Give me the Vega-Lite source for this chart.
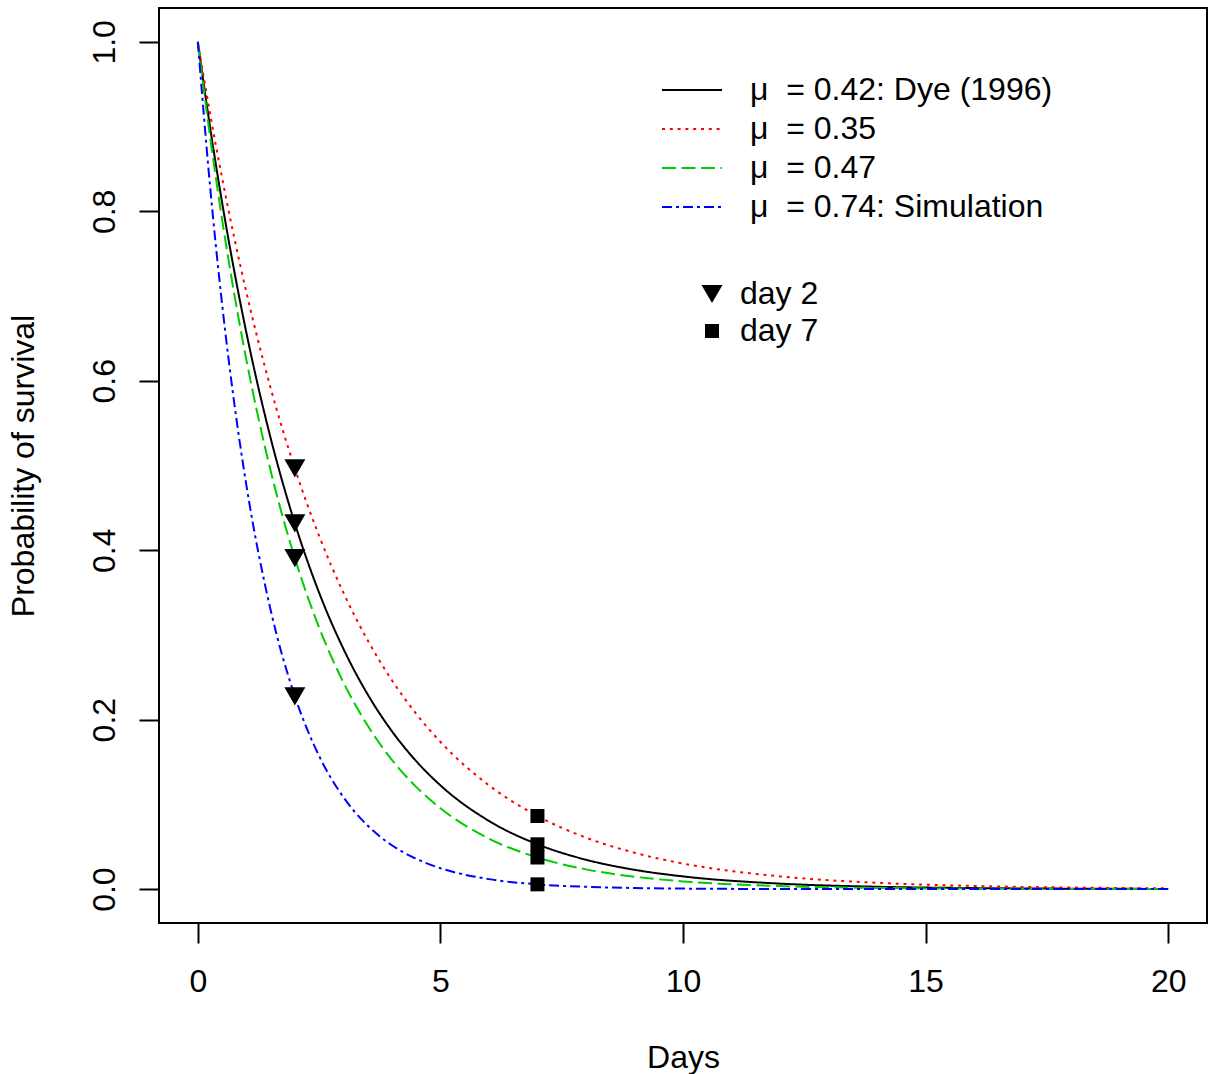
{
  "$schema": "https://vega.github.io/schema/vega-lite/v6.json",
  "width": 1048,
  "height": 915,
  "autosize": {"type": "none"},
  "padding": {"top": 8, "left": 159, "right": 5, "bottom": 151},
  "background": "white",
  "config": {
    "view": {"stroke": "black", "strokeWidth": 2},
    "font": "Liberation Sans",
    "axis": {
      "domain": false,
      "grid": false,
      "ticks": true,
      "tickColor": "black",
      "tickWidth": 2,
      "tickSize": 20,
      "labelColor": "black",
      "labelFont": "Liberation Sans",
      "labelFontSize": 32,
      "titleFont": "Liberation Sans",
      "titleFontSize": 32,
      "titleFontWeight": "normal",
      "titleColor": "black"
    }
  },
  "datasets": {
    "curves": [
      {"s":"0.42","t":0,"p":1},{"s":"0.42","t":0.25,"p":0.9003},{"s":"0.42","t":0.5,"p":0.8106},{"s":"0.42","t":0.75,"p":0.7298},{"s":"0.42","t":1,"p":0.6570},{"s":"0.42","t":1.5,"p":0.5326},{"s":"0.42","t":2,"p":0.4317},{"s":"0.42","t":2.5,"p":0.3499},{"s":"0.42","t":3,"p":0.2837},{"s":"0.42","t":3.5,"p":0.2299},{"s":"0.42","t":4,"p":0.1864},{"s":"0.42","t":4.5,"p":0.1511},{"s":"0.42","t":5,"p":0.1225},{"s":"0.42","t":6,"p":0.0805},{"s":"0.42","t":7,"p":0.0529},{"s":"0.42","t":8,"p":0.0347},{"s":"0.42","t":9,"p":0.0228},{"s":"0.42","t":10,"p":0.0150},{"s":"0.42","t":12,"p":0.00647},{"s":"0.42","t":14,"p":0.00279},{"s":"0.42","t":16,"p":0.00121},{"s":"0.42","t":18,"p":0.00052},{"s":"0.42","t":20,"p":0.000225},
      {"s":"0.35","t":0,"p":1},{"s":"0.35","t":0.25,"p":0.9162},{"s":"0.35","t":0.5,"p":0.8395},{"s":"0.35","t":0.75,"p":0.7691},{"s":"0.35","t":1,"p":0.7047},{"s":"0.35","t":1.5,"p":0.5916},{"s":"0.35","t":2,"p":0.4966},{"s":"0.35","t":2.5,"p":0.4169},{"s":"0.35","t":3,"p":0.3499},{"s":"0.35","t":3.5,"p":0.2938},{"s":"0.35","t":4,"p":0.2466},{"s":"0.35","t":4.5,"p":0.2070},{"s":"0.35","t":5,"p":0.1738},{"s":"0.35","t":6,"p":0.1225},{"s":"0.35","t":7,"p":0.0863},{"s":"0.35","t":8,"p":0.0608},{"s":"0.35","t":9,"p":0.0429},{"s":"0.35","t":10,"p":0.0302},{"s":"0.35","t":12,"p":0.0150},{"s":"0.35","t":14,"p":0.00745},{"s":"0.35","t":16,"p":0.00370},{"s":"0.35","t":18,"p":0.00184},{"s":"0.35","t":20,"p":0.00091},
      {"s":"0.47","t":0,"p":1},{"s":"0.47","t":0.25,"p":0.8891},{"s":"0.47","t":0.5,"p":0.7906},{"s":"0.47","t":0.75,"p":0.7029},{"s":"0.47","t":1,"p":0.6250},{"s":"0.47","t":1.5,"p":0.4941},{"s":"0.47","t":2,"p":0.3906},{"s":"0.47","t":2.5,"p":0.3088},{"s":"0.47","t":3,"p":0.2441},{"s":"0.47","t":3.5,"p":0.1930},{"s":"0.47","t":4,"p":0.1526},{"s":"0.47","t":4.5,"p":0.1207},{"s":"0.47","t":5,"p":0.0954},{"s":"0.47","t":6,"p":0.0596},{"s":"0.47","t":7,"p":0.0373},{"s":"0.47","t":8,"p":0.0233},{"s":"0.47","t":9,"p":0.0146},{"s":"0.47","t":10,"p":0.0091},{"s":"0.47","t":12,"p":0.00355},{"s":"0.47","t":14,"p":0.00139},{"s":"0.47","t":16,"p":0.00054},{"s":"0.47","t":18,"p":0.00021},{"s":"0.47","t":20,"p":0.00008},
      {"s":"0.74","t":0,"p":1},{"s":"0.74","t":0.25,"p":0.8311},{"s":"0.74","t":0.5,"p":0.6907},{"s":"0.74","t":0.75,"p":0.5741},{"s":"0.74","t":1,"p":0.4771},{"s":"0.74","t":1.5,"p":0.3296},{"s":"0.74","t":2,"p":0.2276},{"s":"0.74","t":2.5,"p":0.1572},{"s":"0.74","t":3,"p":0.1086},{"s":"0.74","t":3.5,"p":0.0750},{"s":"0.74","t":4,"p":0.0518},{"s":"0.74","t":4.5,"p":0.0358},{"s":"0.74","t":5,"p":0.0247},{"s":"0.74","t":6,"p":0.0118},{"s":"0.74","t":7,"p":0.00563},{"s":"0.74","t":8,"p":0.00269},{"s":"0.74","t":9,"p":0.00128},{"s":"0.74","t":10,"p":0.00061},{"s":"0.74","t":12,"p":0.00014},{"s":"0.74","t":14,"p":0.00003},{"s":"0.74","t":16,"p":0.00001},{"s":"0.74","t":18,"p":0},{"s":"0.74","t":20,"p":0}
    ],
    "points": [
      {"d":"day 2","t":2,"p":0.4966},{"d":"day 2","t":2,"p":0.4317},{"d":"day 2","t":2,"p":0.3906},{"d":"day 2","t":2,"p":0.2276},
      {"d":"day 7","t":7,"p":0.0863},{"d":"day 7","t":7,"p":0.0529},{"d":"day 7","t":7,"p":0.0373},{"d":"day 7","t":7,"p":0.00563}
    ]
  },
  "layer": [
    {
      "data": {"name": "curves"},
      "mark": {"type": "line", "strokeWidth": 2, "interpolate": "monotone", "strokeCap": "butt"},
      "encoding": {
        "x": {"field": "t", "type": "quantitative",
              "scale": {"domain": [-0.8, 20.8], "nice": false, "zero": false},
              "axis": {"values": [0, 5, 10, 15, 20], "format": "d", "title": "Days", "labelPadding": 23, "titleBaseline": "top", "titleY": 119}},
        "y": {"field": "p", "type": "quantitative",
              "scale": {"domain": [-0.04, 1.04], "nice": false, "zero": false},
              "axis": {"values": [0, 0.2, 0.4, 0.6, 0.8, 1.0], "format": ".1f", "title": "Probability of survival",
                       "labelAngle": 270, "labelAlign": "center", "labelBaseline": "bottom", "labelPadding": 18,
                       "titleBaseline": "bottom", "titleX": -119}},
        "color": {"field": "s", "type": "nominal",
                  "scale": {"domain": ["0.42", "0.35", "0.47", "0.74"], "range": ["#000000", "#FF0000", "#00CD00", "#0000FF"]},
                  "legend": {"orient": "none", "legendX": 502, "legendY": 62.75, "title": null, "symbolType": "stroke", "symbolSize": 3600, "symbolStrokeWidth": 2, "labelFontSize": 32, "labelFont": "Liberation Sans", "labelColor": "black", "labelOffset": 27, "clipHeight": 38.5, "rowPadding": 0, "padding": 0, "labelLimit": 0,
                             "labelExpr": "'μ\u00a0 = ' + datum.label + (datum.label == '0.42' ? ': Dye (1996)' : datum.label == '0.74' ? ': Simulation' : '')"}},
        "strokeDash": {"field": "s", "type": "nominal",
                       "scale": {"domain": ["0.42", "0.35", "0.47", "0.74"], "range": [[1, 0], [3, 4.8], [14, 5.5], [10, 4, 3, 4]]},
                       "legend": {"orient": "none", "legendX": 502, "legendY": 62.75, "title": null, "symbolType": "stroke", "symbolSize": 3600, "symbolStrokeWidth": 2, "labelFontSize": 32, "labelFont": "Liberation Sans", "labelColor": "black", "labelOffset": 27, "clipHeight": 38.5, "rowPadding": 0, "padding": 0, "labelLimit": 0,
                             "labelExpr": "'μ\u00a0 = ' + datum.label + (datum.label == '0.42' ? ': Dye (1996)' : datum.label == '0.74' ? ': Simulation' : '')"}}
      }
    },
    {
      "data": {"name": "points"},
      "mark": {"type": "point", "filled": true, "color": "black", "opacity": 1, "strokeWidth": 0},
      "encoding": {
        "x": {"field": "t", "type": "quantitative"},
        "y": {"field": "p", "type": "quantitative"},
        "shape": {"field": "d", "type": "nominal",
                  "scale": {"domain": ["day 2", "day 7"], "range": ["triangle-down", "square"]},
                  "legend": {"orient": "none", "legendX": 537, "legendY": 267.5, "title": null, "symbolStrokeWidth": 0, "symbolFillColor": "black", "symbolOpacity": 1, "labelFontSize": 32, "labelFont": "Liberation Sans", "labelColor": "black", "labelOffset": 12, "clipHeight": 37, "rowPadding": 0, "padding": 0}},
        "size": {"field": "d", "type": "nominal",
                 "scale": {"domain": ["day 2", "day 7"], "range": [441, 196]},
                 "legend": {"orient": "none", "legendX": 537, "legendY": 267.5, "title": null, "symbolStrokeWidth": 0, "symbolFillColor": "black", "symbolOpacity": 1, "labelFontSize": 32, "labelFont": "Liberation Sans", "labelColor": "black", "labelOffset": 12, "clipHeight": 37, "rowPadding": 0, "padding": 0}}
      }
    }
  ]
}
